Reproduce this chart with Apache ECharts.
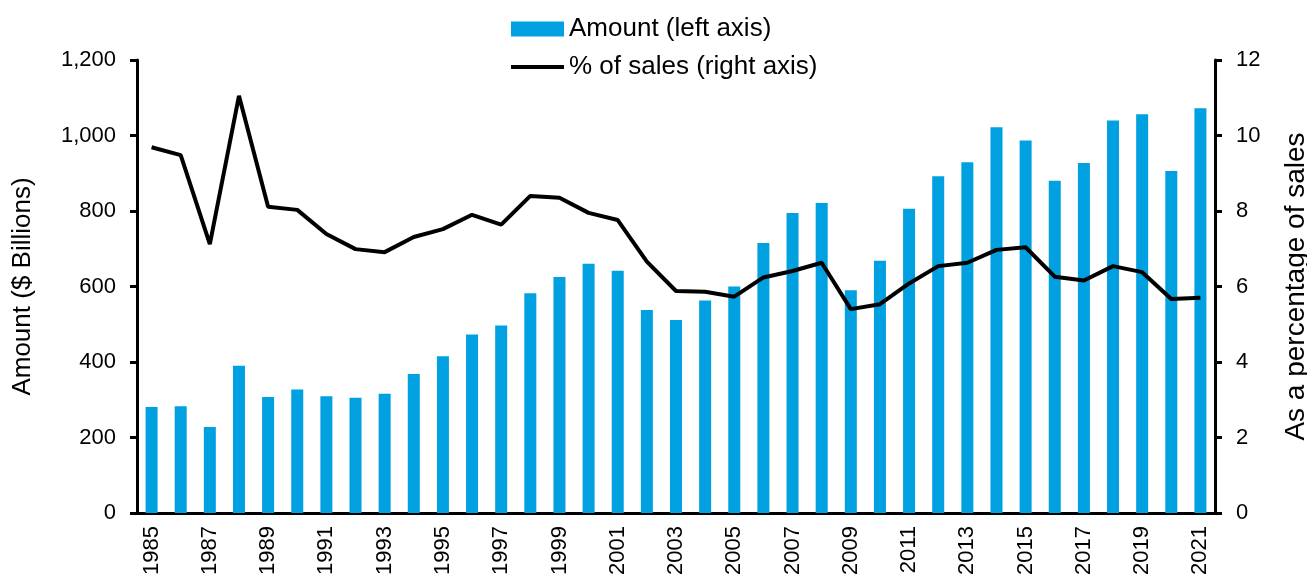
<!DOCTYPE html>
<html>
<head>
<meta charset="utf-8">
<script src="https://cdn.jsdelivr.net/npm/echarts@6/dist/echarts.min.js"></script>
<style>
  html, body { margin: 0; padding: 0; background: #fff; }
  #main { width: 1307px; height: 580px; }
</style>
</head>
<body>
<div id="main"></div>
<script>
// years on the x axis
var years = []
for (var y = 1985; y <= 2021; y++) years.push(String(y))

// amount, $ billions (left axis)
var amount = [
  281, 283, 228, 390, 307, 327, 309, 305, 316, 368,
  415, 473, 497, 582, 625, 660, 642, 538, 511, 563,
  600, 715, 795, 821, 590, 668, 806, 892, 929, 1022,
  987, 880, 927, 1040, 1056, 906, 1072
]

// as % of sales (right axis)
var pctSales = [
  9.69, 9.48, 7.12, 11.05, 8.11, 8.03, 7.39, 6.99, 6.91, 7.31,
  7.52, 7.90, 7.64, 8.40, 8.35, 7.95, 7.76, 6.66, 5.88, 5.86,
  5.73, 6.24, 6.41, 6.63, 5.40, 5.53, 6.08, 6.54, 6.63, 6.97,
  7.04, 6.26, 6.16, 6.54, 6.38, 5.67, 5.70
]

var font = 'Liberation Sans, Arial, sans-serif'

var myChart = echarts.init(document.getElementById('main'))
var option = {
  backgroundColor: '#fff',
  animation: false,
  textStyle: { fontFamily: font, color: '#000' },
  legend: {
    orient: 'vertical',
    left: 506,
    top: 11,
    itemWidth: 53,
    itemHeight: 15,
    itemGap: 12,
    textStyle: { fontFamily: font, fontSize: 26, color: '#000' },
    data: [
      { name: 'Amount (left axis)', icon: 'rect' },
      { name: '% of sales (right axis)', icon: 'path://M0,0 L52,0 L52,4 L0,4 Z', itemStyle: { color: '#000' } }
    ]
  },
  grid: { left: 137, right: 92, top: 60, bottom: 67, outerBoundsMode: 'none', containLabel: false },
  xAxis: {
    type: 'category',
    data: years,
    boundaryGap: true,
    axisLine: { lineStyle: { color: '#000', width: 3 } },
    axisTick: { show: false },
    axisLabel: {
      interval: 1,
      rotate: 90,
      margin: 13,
      fontSize: 22,
      color: '#000',
      fontFamily: font
    }
  },
  yAxis: [
    {
      type: 'value',
      min: 0,
      max: 1200,
      interval: 200,
      name: 'Amount ($ Billions)',
      nameLocation: 'middle',
      nameRotate: 90,
      nameGap: 101,
      nameTextStyle: { fontSize: 26, color: '#000', fontFamily: font },
      axisLine: { show: true, lineStyle: { color: '#000', width: 3 } },
      axisTick: { show: true, length: 7, lineStyle: { color: '#000', width: 3 } },
      splitLine: { show: false },
      axisLabel: {
        margin: 21,
        fontSize: 22,
        color: '#000',
        fontFamily: font,
        formatter: function (v) { return v.toString().replace(/\B(?=(\d{3})+(?!\d))/g, ',') }
      }
    },
    {
      type: 'value',
      min: 0,
      max: 12,
      interval: 2,
      position: 'right',
      name: 'As a percentage of sales',
      nameLocation: 'middle',
      nameRotate: 90,
      nameGap: 67,
      nameTextStyle: { fontSize: 28, color: '#000', fontFamily: font },
      axisLine: { show: true, lineStyle: { color: '#000', width: 3 } },
      axisTick: { show: true, length: 7, lineStyle: { color: '#000', width: 3 } },
      splitLine: { show: false },
      axisLabel: { margin: 21, fontSize: 22, color: '#000', fontFamily: font }
    }
  ],
  series: [
    {
      name: 'Amount (left axis)',
      type: 'bar',
      yAxisIndex: 0,
      data: amount,
      barWidth: 12,
      itemStyle: { color: '#00A0E1' }
    },
    {
      name: '% of sales (right axis)',
      type: 'line',
      yAxisIndex: 1,
      data: pctSales,
      symbol: 'none',
      lineStyle: { color: '#000', width: 4 },
      itemStyle: { color: '#000' }
    }
  ]
}
myChart.setOption(option)
</script>
</body>
</html>
